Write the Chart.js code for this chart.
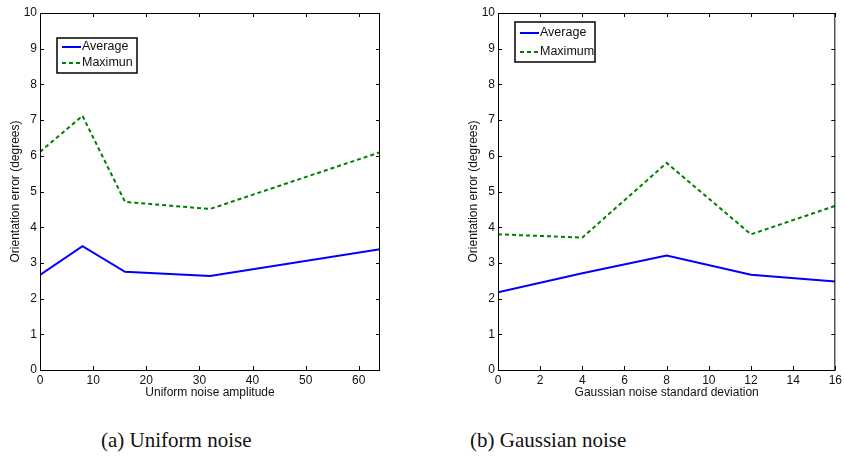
<!DOCTYPE html>
<html>
<head>
<meta charset="utf-8">
<script src="https://cdn.jsdelivr.net/npm/chart.js@4.4.1/dist/chart.umd.min.js"></script>
<style>
  body { margin: 0; background: #fff; width: 845px; height: 463px; position: relative; overflow: hidden; }
  .box { position: absolute; top: 0; height: 400px; }
  .cap { position: absolute; top: 428px; font-family: "Liberation Serif", "DejaVu Serif", serif; font-size: 21px; color: #111; }
</style>
</head>
<body>
<div class="box" style="left:0;width:425px"><canvas id="left"></canvas></div>
<div class="box" style="left:425px;width:420px"><canvas id="right"></canvas></div>
<div class="cap" style="left:101px">(a) Uniform noise</div>
<div class="cap" style="left:470px">(b) Gaussian noise</div>
<script>
// uniform noise panel
const uniformX = [0, 8, 16, 32, 64];
const uniformAvg = [2.66, 3.47, 2.75, 2.63, 3.38];
const uniformMax = [6.11, 7.12, 4.71, 4.51, 6.1];
const uniformLabels = ['Average', 'Maximun'];

// gaussian noise panel
const gaussX = [0, 4, 8, 12, 16];
const gaussAvg = [2.18, 2.71, 3.21, 2.67, 2.48];
const gaussMax = [3.8, 3.71, 5.8, 3.8, 4.6];
const gaussLabels = ['Average', 'Maximum'];

const FONT = '"Liberation Sans", Arial, sans-serif';

function points(xs, ys) {
    return xs.map((x, i) => ({ x: x, y: ys[i] }));
}

// box round the plot with matlab style inward ticks
const frame = {
    id: 'frame',
    afterDraw(chart) {
        const c = chart.ctx;
        const a = chart.chartArea;
        c.save();
        c.strokeStyle = '#000';
        c.lineWidth = 1;
        c.strokeRect(a.left + 0.5, a.top + 0.5, a.right - a.left - 1, a.bottom - a.top);
        c.beginPath();
        chart.scales.x.ticks.forEach(t => {
            const px = Math.round(chart.scales.x.getPixelForValue(t.value)) + 0.5;
            c.moveTo(px, a.bottom); c.lineTo(px, a.bottom - 4);
            c.moveTo(px, a.top); c.lineTo(px, a.top + 4);
        });
        chart.scales.y.ticks.forEach(t => {
            const py = Math.round(chart.scales.y.getPixelForValue(t.value)) + 0.5;
            c.moveTo(a.left, py); c.lineTo(a.left + 4, py);
            c.moveTo(a.right, py); c.lineTo(a.right - 4, py);
        });
        c.stroke();
        c.restore();
    }
};

// legend box inside the plot
const boxLegend = {
    id: 'boxLegend',
    afterDraw(chart, args, opts) {
        const c = chart.ctx;
        const a = chart.chartArea;
        const x = a.left + opts.dx, y = a.top + opts.dy;
        c.save();
        c.fillStyle = '#fff';
        c.fillRect(x, y, opts.w, opts.h);
        c.strokeStyle = '#000';
        c.lineWidth = 1.5;
        c.strokeRect(x, y, opts.w, opts.h);
        c.font = opts.size + 'px ' + FONT;
        c.textBaseline = 'middle';
        chart.data.datasets.forEach((ds, i) => {
            const ry = y + opts.first + i * opts.gap;
            c.strokeStyle = ds.borderColor;
            c.lineWidth = 2;
            c.setLineDash(ds.borderDash || []);
            c.beginPath();
            c.moveTo(x + 5, ry); c.lineTo(x + 24, ry);
            c.stroke();
            c.setLineDash([]);
            c.fillStyle = '#111';
            c.fillText(ds.label, x + 25, ry);
        });
        c.restore();
    }
};

function makeChart(id, xs, avg, mx, labels, xmax, step, xTitle, yw, titlePad, pad, legend) {
    return new Chart(document.getElementById(id), {
        type: 'line',
        data: {
            datasets: [{
                label: labels[0],
                data: points(xs, avg),
                borderColor: '#0000ff',
                borderWidth: 2,
                pointRadius: 0
            }, {
                label: labels[1],
                data: points(xs, mx),
                borderColor: '#008000',
                borderWidth: 2,
                borderDash: [4, 3],
                pointRadius: 0
            }]
        },
        options: {
            responsive: true,
            maintainAspectRatio: false,
            animation: false,
            layout: { padding: pad },
            plugins: {
                legend: { display: false },
                tooltip: { enabled: false },
                boxLegend: legend
            },
            scales: {
                x: {
                    type: 'linear',
                    min: 0,
                    max: xmax,
                    grid: { display: false, drawTicks: false },
                    border: { display: false },
                    ticks: { stepSize: step, includeBounds: false, padding: 3, color: '#111', font: { family: FONT, size: 12 } },
                    title: { display: true, text: xTitle, color: '#111', padding: 0, font: { family: FONT, size: 12 } },
                    afterFit(s) { s.height = 30; }
                },
                y: {
                    min: 0,
                    max: 10,
                    grid: { display: false, drawTicks: false },
                    border: { display: false },
                    ticks: { stepSize: 1, padding: 3, color: '#111', font: { family: FONT, size: 12 } },
                    title: { display: true, text: 'Orientation error (degrees)', color: '#111', padding: { top: titlePad, bottom: 0 }, font: { family: FONT, size: 12 } },
                    afterFit(s) { s.width = yw; }
                }
            }
        },
        plugins: [frame, boxLegend]
    });
}

makeChart('left', uniformX, uniformAvg, uniformMax, uniformLabels, 64, 10,
    'Uniform noise amplitude', 40, 8, { left: 0, top: 13, right: 45, bottom: 0 },
    { dx: 17, dy: 25, w: 80, h: 35, first: 9, gap: 16, size: 12.5 });

makeChart('right', gaussX, gaussAvg, gaussMax, gaussLabels, 16, 2,
    'Gaussian noise standard deviation', 73, 41, { left: 0, top: 13, right: 7, bottom: 0 },
    { dx: 17, dy: 9, w: 80, h: 40, first: 11, gap: 19, size: 12.5 });
</script>
</body>
</html>
